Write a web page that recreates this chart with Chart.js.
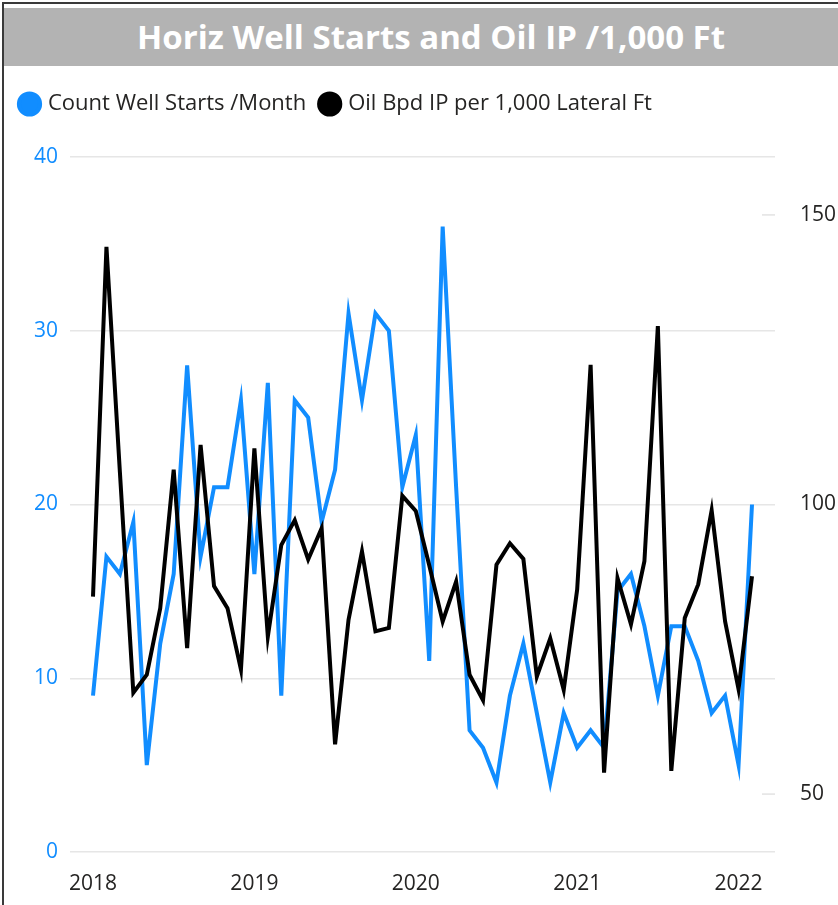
<!DOCTYPE html>
<html>
<head>
<meta charset="utf-8">
<script src="https://cdn.jsdelivr.net/npm/chart.js@4.4.1/dist/chart.umd.min.js"></script>
<style>
  html, body { margin: 0; padding: 0; background: #fff; overflow: hidden; }
  #frame { position: absolute; left: 2px; top: 2px; width: 836px; height: 903px;
           border-left: 2px solid #3a3a3a; border-top: 2px solid #3a3a3a; }
  #title { position: absolute; left: 4px; top: 8px; width: 854px; height: 58px; overflow: hidden;
           background: #b3b3b3; color: #fff; text-align: center;
           font: bold 33px "Open Sans", sans-serif; line-height: 58px; }
  #wrap { position: absolute; left: 6px; top: 66px; width: 832px; height: 839px; }
</style>
</head>
<body>
<div id="frame"></div>
<div id="title">Horiz Well Starts and Oil IP /1,000 Ft</div>
<div id="wrap"><canvas id="chart"></canvas></div>
<script>
// months Jan 2018 .. Feb 2022
const months = [
  "2018-01","2018-02","2018-03","2018-04","2018-05","2018-06","2018-07","2018-08","2018-09","2018-10","2018-11","2018-12",
  "2019-01","2019-02","2019-03","2019-04","2019-05","2019-06","2019-07","2019-08","2019-09","2019-10","2019-11","2019-12",
  "2020-01","2020-02","2020-03","2020-04","2020-05","2020-06","2020-07","2020-08","2020-09","2020-10","2020-11","2020-12",
  "2021-01","2021-02","2021-03","2021-04","2021-05","2021-06","2021-07","2021-08","2021-09","2021-10","2021-11","2021-12",
  "2022-01","2022-02"
];
const yearTicks = ["2018", "2019", "2020", "2021", "2022"];

const wellStarts = [
  9, 17, 16, 19, 5, 12, 16, 28, 17, 21, 21, 26,
  16, 27, 9, 26, 25, 19, 22, 31, 26, 31, 30, 21,
  24, 11, 36, 21, 7, 6, 4, 9, 12, 8, 4, 8,
  6, 7, 6, 15, 16, 13, 9, 13, 13, 11, 8, 9,
  5, 20
];
const oilIP = [
  84.1, 144.5, 105.6, 67.5, 70.6, 82.1, 106, 75.2, 110.3, 85.9, 82.1, 71.5,
  109.7, 77.2, 93, 97.3, 90.5, 95.9, 58.6, 80.1, 91.9, 78.1, 78.7, 101.5,
  98.9, 89.5, 79.8, 86.7, 70.6, 66.2, 89.6, 93.3, 90.6, 70.3, 76.9, 68,
  85.3, 124.1, 53.7, 87.3, 79.3, 90.2, 130.8, 54, 80.4, 86.2, 99, 79.8,
  68.1, 87.6
];
const leftTicks = [0, 10, 20, 30, 40];
const rightTicks = [50, 100, 150];

const BLUE = "#118DFF";
const DARK = "#252423";
const FONT = "'Open Sans', sans-serif";

const toPoints = arr => arr.map((v, i) => ({ x: i, y: v }));

// short tick dashes for the right axis, drawn inside the plot
const rightDashes = {
  id: "rightDashes",
  beforeDatasetsDraw(chart) {
    const { ctx, chartArea } = chart;
    const s = chart.scales.y1;
    ctx.save();
    ctx.strokeStyle = "#e3e3e3";
    ctx.lineWidth = 1.5;
    rightTicks.forEach(t => {
      if (t === 100) return;
      const y = s.getPixelForValue(t);
      ctx.beginPath();
      ctx.moveTo(chartArea.right - 13, y);
      ctx.lineTo(chartArea.right, y);
      ctx.stroke();
    });
    ctx.restore();
  }
};

// extra room under the legend
const legendSpacer = {
  id: "legendSpacer",
  beforeInit(chart) {
    const fit = chart.legend.fit;
    chart.legend.fit = function () {
      fit.bind(chart.legend)();
      this.height += 32;
    };
  }
};

new Chart(document.getElementById("chart"), {
  type: "line",
  data: {
    labels: months,
    datasets: [
      {
        label: "Oil Bpd IP per 1,000 Lateral Ft",
        data: toPoints(oilIP),
        yAxisID: "y1",
        borderColor: "#000",
        backgroundColor: "#000",
        borderWidth: 4,
        pointRadius: 0,
        tension: 0
      },
      {
        label: "Count Well Starts /Month",
        data: toPoints(wellStarts),
        yAxisID: "y",
        borderColor: BLUE,
        backgroundColor: BLUE,
        borderWidth: 4,
        pointRadius: 0,
        tension: 0
      }
    ]
  },
  options: {
    responsive: true,
    maintainAspectRatio: false,
    animation: false,
    layout: { padding: { top: 11 } },
    plugins: {
      tooltip: { enabled: false },
      legend: {
        position: "top",
        align: "start",
        reverse: true,
        labels: {
          usePointStyle: true,
          pointStyle: "circle",
          boxWidth: 15,
          boxHeight: 15,
          padding: 16,
          color: DARK,
          font: { family: FONT, size: 22 }
        }
      }
    },
    scales: {
      x: {
        type: "linear",
        min: -1.71,
        max: months.length - 1 + 1.71,
        afterBuildTicks: s => { s.ticks = yearTicks.map((y, k) => ({ value: k * 12 })); },
        afterFit: s => { s.height = 53; },
        grid: { display: false },
        border: { display: false },
        ticks: {
          padding: 11,
          color: DARK,
          font: { family: FONT, size: 21 },
          maxRotation: 0,
          callback: v => yearTicks[v / 12]
        }
      },
      y: {
        position: "left",
        min: 0,
        max: 40,
        afterBuildTicks: s => { s.ticks = leftTicks.map(v => ({ value: v })); },
        afterFit: s => { s.width = 64; },
        grid: { color: "#e6e6e6", lineWidth: 1.5, drawTicks: false },
        border: { display: false },
        ticks: { padding: 12, color: BLUE, font: { family: FONT, size: 21 } }
      },
      y1: {
        position: "right",
        min: 40,
        max: 160,
        afterBuildTicks: s => { s.ticks = rightTicks.map(v => ({ value: v })); },
        afterFit: s => { s.width = 63; },
        grid: { display: false },
        border: { display: false },
        ticks: { padding: 17, color: DARK, font: { family: FONT, size: 21 } }
      }
    }
  },
  plugins: [rightDashes, legendSpacer]
});
</script>
</body>
</html>
